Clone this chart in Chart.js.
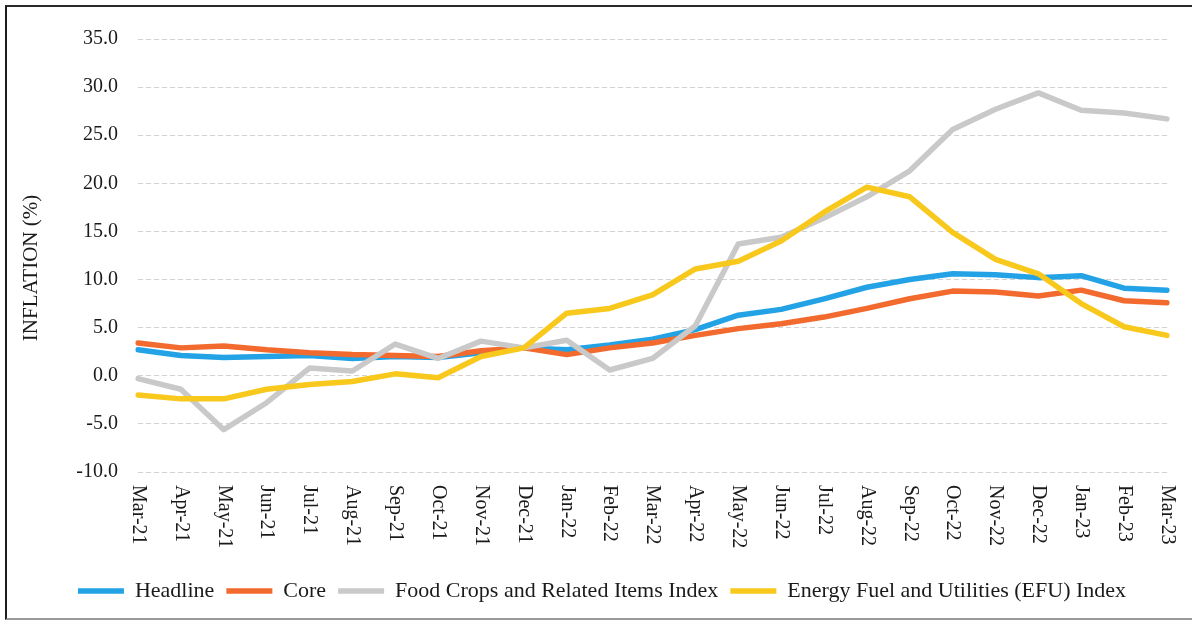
<!DOCTYPE html>
<html>
<head>
<meta charset="utf-8">
<script src="https://cdn.jsdelivr.net/npm/chart.js@4.4.1/dist/chart.umd.min.js"></script>
<style>
  html, body { margin: 0; padding: 0; background: #fff; }
  .chart-wrap {
    position: absolute;
    left: 5px;
    top: 5px;
    width: 1185px;
    height: 611px;
    border-left: 2px solid #1c1c1c;
    border-top: 2px solid #2a2a2a;
    border-bottom: 2px solid #9a9a9a;
  }
</style>
</head>
<body>
<div class="chart-wrap"><canvas id="inflationChart"></canvas></div>
<script>
const months = ['Mar-21', 'Apr-21', 'May-21', 'Jun-21', 'Jul-21', 'Aug-21', 'Sep-21', 'Oct-21', 'Nov-21',
  'Dec-21', 'Jan-22', 'Feb-22', 'Mar-22', 'Apr-22', 'May-22', 'Jun-22', 'Jul-22', 'Aug-22', 'Sep-22',
  'Oct-22', 'Nov-22', 'Dec-22', 'Jan-23', 'Feb-23', 'Mar-23'];

const headline = [2.7, 2.1, 1.9, 2.0, 2.1, 1.8, 2.0, 1.9, 2.4, 2.9, 2.7, 3.2, 3.8, 4.8, 6.3, 6.9,
  8.0, 9.2, 10.0, 10.6, 10.5, 10.2, 10.4, 9.1, 8.9];
const core = [3.4, 2.9, 3.1, 2.7, 2.4, 2.2, 2.1, 2.0, 2.6, 2.9, 2.2, 2.9, 3.4, 4.2, 4.9, 5.4,
  6.1, 7.0, 8.0, 8.8, 8.7, 8.3, 8.9, 7.8, 7.6];
const foodCrops = [-0.3, -1.4, -5.6, -2.8, 0.8, 0.5, 3.3, 1.8, 3.6, 2.9, 3.7, 0.6, 1.8, 5.2, 13.7, 14.4,
  16.4, 18.6, 21.3, 25.6, 27.7, 29.4, 27.6, 27.3, 26.7];
const energyFuel = [-2.0, -2.4, -2.4, -1.4, -0.9, -0.6, 0.2, -0.2, 2.0, 2.9, 6.5, 7.0, 8.4, 11.1, 11.9, 14.0,
  17.0, 19.6, 18.6, 14.9, 12.1, 10.6, 7.5, 5.1, 4.2];

const yMin = -10;
const yMax = 35;
const yStep = 5;
const yTitle = 'INFLATION (%)';

const serif = '"Liberation Serif", "Times New Roman", serif';
Chart.defaults.font.family = serif;
Chart.defaults.color = '#1a1a1a';

function series(label, data, color, order) {
  return {
    label,
    data,
    borderColor: color,
    backgroundColor: color,
    borderWidth: 5.5,
    borderCapStyle: 'round',
    borderJoinStyle: 'round',
    pointRadius: 0,
    tension: 0,
    order
  };
}

// x labels read top-to-bottom and the y title sits a bit low, so both are drawn here
const sideText = {
  id: 'sideText',
  afterDraw(chart) {
    const { ctx, chartArea } = chart;
    const x = chart.scales.x;
    ctx.save();
    ctx.fillStyle = '#1a1a1a';
    ctx.font = '20px ' + serif;
    ctx.textAlign = 'left';
    ctx.textBaseline = 'middle';
    months.forEach((m, i) => {
      ctx.save();
      ctx.translate(x.getPixelForTick(i), chartArea.bottom + 13);
      ctx.rotate(Math.PI / 2);
      ctx.fillText(m, 0, 0);
      ctx.restore();
    });
    ctx.font = '21px ' + serif;
    ctx.translate(24, 261);
    ctx.rotate(-Math.PI / 2);
    ctx.textAlign = 'center';
    ctx.fillText(yTitle, 0, 0);
    ctx.restore();
  }
};

new Chart(document.getElementById('inflationChart'), {
  type: 'line',
  data: {
    labels: months,
    datasets: [
      series('Headline', headline, '#23a3e6', 4),
      series('Core', core, '#f26a2e', 3),
      series('Food Crops and Related Items Index', foodCrops, '#c9c9c9', 2),
      series('Energy Fuel and Utilities (EFU) Index', energyFuel, '#f8c81c', 1)
    ]
  },
  options: {
    responsive: true,
    maintainAspectRatio: false,
    animation: false,
    layout: { padding: { top: 25, right: 25, bottom: 6, left: 30 } },
    plugins: {
      tooltip: { enabled: false },
      legend: {
        position: 'bottom',
        labels: {
          usePointStyle: true,
          pointStyle: 'line',
          pointStyleWidth: 46,
          padding: 12,
          color: '#1a1a1a',
          font: { size: 22, family: serif },
          sort: (a, b) => a.datasetIndex - b.datasetIndex
        }
      }
    },
    scales: {
      x: {
        grid: { display: false },
        border: { display: false },
        ticks: { display: false },
        afterFit: (scale) => { scale.height = 96; }
      },
      y: {
        min: yMin,
        max: yMax,
        border: { display: false, dash: [5, 3] },
        grid: { color: '#d2d2d2', drawTicks: false, lineWidth: 1 },
        ticks: {
          stepSize: yStep,
          padding: 20,
          font: { size: 20 },
          callback: (v) => v.toFixed(1)
        },
        afterFit: (scale) => { scale.width = 101; }
      }
    }
  },
  plugins: [sideText]
});
</script>
</body>
</html>
